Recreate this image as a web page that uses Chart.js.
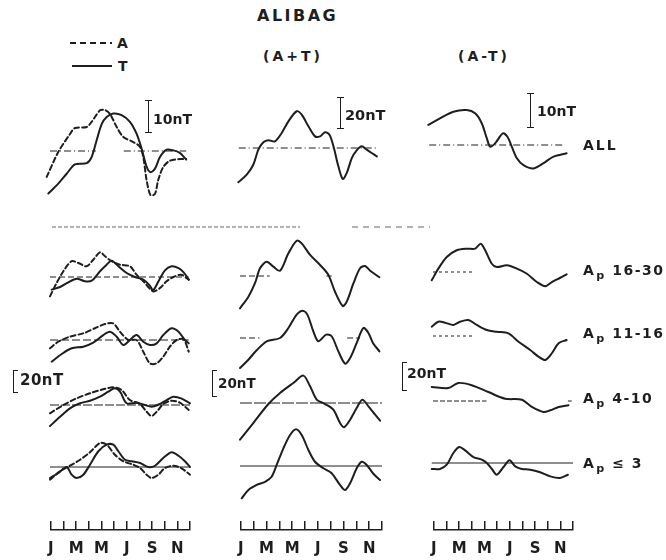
<!DOCTYPE html>
<html>
<head>
<meta charset="utf-8">
<script src="https://cdn.jsdelivr.net/npm/chart.js@4.4.1/dist/chart.umd.min.js"></script>
<style>
  body { margin: 0; background: #fff; }
  #page { position: relative; width: 666px; height: 560px; overflow: hidden; background: #fff;
          font-family: "DejaVu Sans", sans-serif; font-weight: bold; color: #1e1e1e; }
  .t { position: absolute; white-space: nowrap; line-height: 1; }
  .t sub { font-size: 0.8em; vertical-align: -0.35em; margin-left: 1px; }
  .bar { position: absolute; border-left: 1.5px solid #1e1e1e; }
  .bar::before, .bar::after { content: ""; position: absolute; border-top: 1.5px solid #1e1e1e; }
  .bar.i::before, .bar.i::after { left: -4px; width: 7px; }
  .bar.b::before, .bar.b::after { left: -1px; width: 5px; }
  .bar::before { top: 0; }
  .bar::after { bottom: -1px; }
  svg { position: absolute; left: 0; top: 0; }
</style>
</head>
<body>
<div id="page">
  <svg width="666" height="560">
    <line x1="70" y1="43" x2="112" y2="43" stroke="#1e1e1e" stroke-width="2" stroke-dasharray="6,4"/>
    <line x1="72" y1="66" x2="112" y2="66" stroke="#1e1e1e" stroke-width="2"/>
    <line x1="52" y1="227" x2="300" y2="227" stroke="#666" stroke-width="1" stroke-dasharray="4,2"/>
    <line x1="352" y1="227" x2="430" y2="227" stroke="#666" stroke-width="1" stroke-dasharray="6,5"/>
  </svg>
</div>
<script>
  // month ticks under each column
  const MONTH_TICKS = ["J", "F", "M", "A", "M", "J", "J", "A", "S", "O", "N", "D"];

  // curves as [month index, nT] (0 = Jan)
  const ALL_A = [[-0.26,-8.1],[0.65,-0.3],[1.57,5.3],[1.96,7.2],[2.88,7.5],[3.27,9.1],[3.93,12.7],[4.32,12.8],[4.71,11.6],[5.24,7.5],[5.76,4.4],[6.54,2.8],[7.07,1.3],[7.33,-1.9],[7.59,-9.1],[7.9,-13.8],[8.25,-13.4],[8.5,-9.1],[8.9,-5.0],[9.4,-3.1],[10.2,-2.5],[10.7,-2.5]];
  const ALL_T = [[-0.13,-13.3],[0.65,-10.2],[1.31,-7.1],[1.96,-4.2],[2.88,-3.8],[3.27,-1.9],[3.66,3.3],[4.06,8.4],[4.45,10.6],[4.97,11.7],[5.63,11.2],[6.28,9.1],[6.8,5.4],[7.2,0.7],[7.6,-5.0],[7.9,-6.6],[8.25,-5.5],[8.64,-1.9],[9.16,0.4],[9.7,0.2],[10.2,-0.6],[10.7,-2.7]];
  const ALL_SUM = [[-0.13,-22.1],[0.52,-17.2],[1.03,-10.8],[1.42,-1.1],[1.81,3.7],[2.2,5.0],[2.71,4.3],[3.23,9.7],[3.75,17.2],[4.39,23.7],[4.78,21.5],[5.3,14.0],[5.81,7.5],[6.2,7.5],[6.59,10.1],[6.93,8.6],[7.24,1.1],[7.62,-11.8],[7.96,-20.0],[8.27,-16.1],[8.66,-6.5],[9.04,-1.5],[9.43,1.1],[9.82,-1.1],[10.2,-3.2],[10.6,-5.4]];
  const ALL_DIFF = [[-0.37,6.1],[0.55,8.1],[1.6,10.1],[2.65,10.6],[3.31,9.6],[3.83,6.6],[4.23,2.0],[4.49,-0.5],[4.88,0.5],[5.49,3.5],[5.85,2.5],[6.19,-0.5],[6.59,-4.0],[7.11,-6.1],[7.9,-7.1],[8.69,-5.5],[9.47,-3.5],[10.5,-2.5]];

  const AP1630_A = [[0,-16.8],[0.52,-5.2],[1.05,5.0],[1.7,13.7],[2.23,12.2],[2.88,9.3],[3.4,15.0],[3.93,21.5],[4.32,18.0],[4.84,13.7],[5.5,10.7],[6.28,9.3],[6.8,2.0],[7.33,-3.7],[8.1,-12.4],[8.64,-9.6],[9.16,-3.7],[9.7,0],[10.3,2.0],[10.9,-2.3]];
  const AP1630_T = [[0.13,-11.0],[0.79,-8.7],[1.44,-4.6],[2.09,-1.5],[2.75,-3.7],[3.27,-3.2],[3.93,5.0],[4.45,10.7],[4.84,14.2],[5.37,9.3],[6.02,3.5],[6.68,0],[7.33,-2.3],[7.85,-7.6],[8.1,-11.6],[8.59,-2.3],[9.03,5.8],[9.55,9.3],[10.1,7.8],[10.5,4.1],[10.9,-2.3]];
  const AP1630_SUM = [[0,-28.1],[0.65,-18.0],[1.16,-6.3],[1.55,6.7],[2.07,12.4],[2.58,8.1],[3.1,4.6],[3.75,19.7],[4.39,30.7],[4.78,28.4],[5.43,18.3],[6.2,9.6],[6.85,0.9],[7.36,-13.7],[7.96,-26.1],[8.27,-22.3],[8.79,-6.3],[9.3,6.7],[9.69,8.7],[10.08,4.6],[10.8,-1.1]];
  const AP1630_DIFF = [[-0.1,-7.2],[0.42,2.9],[1.08,13.0],[1.86,18.9],[2.65,20.3],[3.31,20.3],[3.75,24.6],[4.1,18.9],[4.62,7.2],[5.01,4.3],[5.8,5.8],[6.59,2.9],[7.38,-1.5],[8.16,-8.7],[8.82,-12.4],[9.34,-8.7],[10.0,-5.0],[10.5,-2.0]];

  const AP1116_A = [[0,-7.2],[0.65,-1.5],[1.57,2.9],[2.62,5.8],[3.53,10.2],[4.32,13.9],[4.97,14.5],[5.5,7.2],[6.15,0],[6.8,0],[7.33,-10.2],[7.85,-20.3],[8.38,-20.3],[8.9,-14.5],[9.42,-5.8],[9.95,0],[10.5,0.6],[10.9,-10.2]];
  const AP1116_T = [[0.13,-18.9],[0.92,-12.2],[1.7,-7.2],[2.62,-5.8],[3.4,-2.3],[4.19,4.3],[4.71,7.2],[5.24,2.9],[5.76,-4.3],[6.28,0],[6.8,4.3],[7.33,-1.5],[7.85,-4.3],[8.38,-2.9],[8.9,4.3],[9.55,10.2],[10.1,7.2],[10.6,0],[10.9,-2.9]];
  const AP1116_SUM = [[0,-26.1],[0.65,-18.9],[1.29,-10.7],[2.07,-2.9],[3.1,0],[3.75,8.7],[4.39,20.3],[4.86,23.7],[5.22,20.3],[5.68,5.8],[6.07,-2.9],[6.67,2.9],[7.1,1.5],[7.62,-11.6],[8.14,-22.3],[8.53,-17.4],[9.04,-4.3],[9.56,8.7],[9.95,4.3],[10.3,-4.3],[10.8,-11.6]];
  const AP1116_DIFF = [[-0.1,8.1],[0.42,12.4],[0.94,11.6],[1.6,9.6],[2.13,12.4],[2.78,13.9],[3.44,9.6],[4.23,5.2],[5.01,3.7],[5.93,2.3],[6.72,-5.0],[7.64,-12.2],[8.29,-18.0],[8.82,-20.9],[9.34,-15.0],[9.87,-6.3],[10.5,-3.5]];

  const AP410_A = [[0,-7.2],[1.05,0],[2.09,5.8],[3.14,10.2],[4.19,13.7],[4.97,15.4],[5.63,13.0],[6.28,4.3],[7.07,0.9],[7.59,-5.8],[7.98,-9.6],[8.51,-4.3],[8.9,0.9],[9.55,3.7],[10.2,2.0],[10.9,-4.3]];
  const AP410_T = [[0,-18.3],[0.79,-10.2],[1.57,-2.9],[2.36,1.5],[3.14,3.7],[3.93,7.2],[4.58,11.6],[5.1,14.5],[5.5,11.6],[6.02,1.5],[6.8,2.0],[7.46,0],[7.98,-1.5],[8.64,0.9],[9.16,4.3],[9.69,7.2],[10.3,5.8],[11,1.5]];
  const AP410_SUM = [[0,-31.9],[1.03,-17.4],[2.2,-0.9],[3.1,8.7],[4.13,17.4],[4.91,23.8],[5.43,14.5],[5.94,3.0],[6.59,-0.9],[7.23,-5.8],[7.75,-17.4],[8.06,-21.1],[8.53,-14.5],[9.04,-4.3],[9.48,2.9],[9.95,-2.9],[10.47,-10.2],[10.85,-15.4]];
  const AP410_DIFF = [[-0.1,12.2],[1.2,11.3],[2.0,15.7],[3.04,13.7],[4.35,7.8],[5.67,2.0],[6.98,1.1],[7.77,-5.2],[8.68,-9.6],[9.21,-8.1],[9.87,-5.2],[10.65,-3.7]];

  const AP3_A = [[0,-11.0],[0.79,-3.7],[1.57,1.1],[2.36,6.3],[3.14,12.8],[3.93,20.9],[4.45,19.4],[5.1,10.7],[5.76,5.0],[6.54,2.0],[7.07,-0.9],[7.59,-6.7],[7.98,-9.6],[8.51,-6.7],[9.03,-0.9],[9.69,1.1],[10.3,-0.9],[11,-6.7]];
  const AP3_T = [[0,-9.6],[0.65,-5.2],[1.31,0],[1.7,-6.7],[2.09,-9.6],[2.62,-6.7],[3.14,2.0],[3.8,13.7],[4.45,19.4],[4.97,19.4],[5.37,13.7],[5.89,6.3],[6.41,5.0],[7.07,3.5],[7.72,0],[8.25,1.1],[8.9,7.8],[9.55,12.8],[10.1,9.8],[10.6,5.0],[11,0]];
  const AP3_SUM = [[0.13,-28.1],[0.65,-20.9],[1.29,-16.5],[1.94,-13.7],[2.45,-9.3],[2.84,0.9],[3.36,15.4],[3.88,27.0],[4.34,31.9],[4.78,27.0],[5.3,13.9],[5.81,3.7],[6.46,-2.0],[7.1,-6.3],[7.75,-16.5],[8.14,-20.9],[8.53,-15.0],[9.04,-2.0],[9.43,3.7],[9.82,0.9],[10.3,-6.3],[10.85,-12.2]];
  const AP3_DIFF = [[-0.1,-5.2],[0.55,-5.2],[1.08,-1.5],[1.6,8.7],[2.07,13.9],[2.52,11.0],[3.18,5.2],[3.83,2.9],[4.23,0],[4.62,-5.2],[5.01,-10.2],[5.54,-3.5],[6.01,2.3],[6.46,-2.9],[6.98,-5.2],[7.64,-5.8],[8.42,-8.1],[9.21,-11.6],[9.97,-13.0],[10.6,-10.2]];

  // layout of the panels on the page
  const COL_LEFT = [50, 240, 433];
  const COL_WIDTH = [140, 142, 140];
  const ROW_BASE = [[151, 148, 145], [277, 276, 272], [340, 338, 336], [405, 403, 401], [467, 466, 463]];
  const ROW_SCALE = [[3.2, 1.55, 3.3], [1.15, 1.15, 1.15], [1.15, 1.15, 1.15], [1.15, 1.15, 1.15], [1.15, 1.15, 1.15]]; // px per nT
  const DASH_DOT = [7, 3, 1, 3];
  const DASHED = [6, 3];

  const PANELS = [
    { row: 0, col: 0, series: [ALL_A, ALL_T], base: [[0, 3.6], [5.8, 10.7]], dash: DASH_DOT },
    { row: 0, col: 1, series: [ALL_SUM], base: [[-0.1, 10.6]], dash: DASH_DOT },
    { row: 0, col: 2, series: [ALL_DIFF], base: [[-0.3, 10.3]], dash: DASH_DOT },
    { row: 1, col: 0, series: [AP1630_A, AP1630_T], base: [[0, 10.9]], dash: DASHED },
    { row: 1, col: 1, series: [AP1630_SUM], base: [[0, 2.3], [6.7, 7.1]], dash: DASHED },
    { row: 1, col: 2, series: [AP1630_DIFF], base: [[0, 3.3]], dash: [3, 3] },
    { row: 2, col: 0, series: [AP1116_A, AP1116_T], base: [[0, 10.9]], dash: [8, 3] },
    { row: 2, col: 1, series: [AP1116_SUM], base: [[0, 1.5], [8.3, 9.3]], dash: DASHED },
    { row: 2, col: 2, series: [AP1116_DIFF], base: [[0, 3.1]], dash: [3, 3] },
    { row: 3, col: 0, series: [AP410_A, AP410_T], base: [[0, 11]], dash: [9, 2] },
    { row: 3, col: 1, series: [AP410_SUM], base: [[0, 11]], dash: [12, 2] },
    { row: 3, col: 2, series: [AP410_DIFF], base: [[0, 4.2], [10.6, 10.9]], dash: [5, 2] },
    { row: 4, col: 0, series: [AP3_A, AP3_T], base: [[0, 11]], dash: [] },
    { row: 4, col: 1, series: [AP3_SUM], base: [[0, 11]], dash: [] },
    { row: 4, col: 2, series: [AP3_DIFF], base: [[-0.1, 11]], dash: [] }
  ];

  const INK = "#1e1e1e";
  const FONT = "DejaVu Sans";
  const PAD = 12;
  const AXIS_Y = 530;
  const TICK_LEN = 9;
  const LABEL_BAND = 30;
  const page = document.getElementById("page");

  function place(x, y, w, h) {
    const c = document.createElement("canvas");
    c.width = w;
    c.height = h;
    c.style.cssText = `position:absolute;left:${x}px;top:${y}px;width:${w}px;height:${h}px`;
    page.appendChild(c);
    return c;
  }

  function lineSet(points, dashed) {
    return {
      data: points.map(([x, y]) => ({ x, y })),
      borderColor: INK, borderWidth: 2, borderDash: dashed ? [5, 3] : [],
      borderCapStyle: "round", borderJoinStyle: "round",
      tension: 0.3, pointRadius: 0, clip: false, fill: false
    };
  }

  function baseSet(range, dash) {
    return {
      data: [{ x: range[0], y: 0 }, { x: range[1], y: 0 }],
      borderColor: INK, borderWidth: 1, borderDash: dash, pointRadius: 0, clip: false, fill: false
    };
  }

  function drawPanel(p) {
    const H = 120;
    const scale = ROW_SCALE[p.row][p.col];
    const half = H / 2 / scale;
    const canvas = place(COL_LEFT[p.col] - PAD, ROW_BASE[p.row][p.col] - H / 2, COL_WIDTH[p.col] + 2 * PAD, H);
    const datasets = p.base.map(r => baseSet(r, p.dash))
      .concat(p.series.map((s, i) => lineSet(s, p.col === 0 && i === 0)));
    new Chart(canvas, {
      type: "line",
      data: { datasets },
      options: {
        responsive: false, animation: false, events: [],
        layout: { padding: { left: PAD, right: PAD, top: 0, bottom: 0 } },
        plugins: { legend: { display: false }, tooltip: { enabled: false } },
        scales: {
          x: { type: "linear", display: false, min: 0, max: 11 },
          y: { display: false, min: -half, max: half }
        }
      }
    });
  }

  function drawMonthAxis(col) {
    // plot area = tick comb height, axis band below holds the letters
    const canvas = place(COL_LEFT[col] - PAD, AXIS_Y - TICK_LEN, COL_WIDTH[col] + 2 * PAD, TICK_LEN + LABEL_BAND);
    new Chart(canvas, {
      type: "line",
      data: { datasets: [] },
      options: {
        responsive: false, animation: false, events: [],
        layout: { padding: { left: PAD, right: PAD, top: 0, bottom: 0 } },
        plugins: { legend: { display: false }, tooltip: { enabled: false } },
        scales: {
          x: {
            type: "linear", min: 0, max: 11,
            afterFit: scale => { scale.height = LABEL_BAND; },
            grid: { color: INK, lineWidth: 1.5, drawTicks: false },
            border: { color: INK, width: 1.5 },
            ticks: {
              stepSize: 1, autoSkip: false, maxRotation: 0, padding: 10, color: INK,
              font: { family: FONT, weight: "bold", size: 15 },
              callback: v => (Number.isInteger(v) && v % 2 === 0 ? MONTH_TICKS[v] : "")
            }
          },
          y: { display: false, min: 0, max: 1 }
        }
      }
    });
  }

  function text(str, x, cy, size, spacing) {
    const d = document.createElement("div");
    d.className = "t";
    d.innerHTML = str;
    d.style.left = x + "px";
    d.style.top = (cy - size / 2) + "px";
    d.style.fontSize = size + "px";
    if (spacing) d.style.letterSpacing = spacing + "px";
    page.appendChild(d);
  }

  function bar(x, y1, y2, kind) {
    const d = document.createElement("div");
    d.className = "bar " + kind;
    d.style.left = x + "px";
    d.style.top = y1 + "px";
    d.style.height = (y2 - y1) + "px";
    page.appendChild(d);
  }

  PANELS.forEach(drawPanel);
  [0, 1, 2].forEach(drawMonthAxis);

  text("ALIBAG", 257, 16, 16, 2.5);
  text("(A+T)", 263, 56, 14, 3);
  text("(A-T)", 458, 56, 14, 3);
  text("A", 117, 43, 14);
  text("T", 118, 66, 14);

  bar(148, 100, 132, "i");
  text("10nT", 153, 119, 14);
  bar(340, 97, 128, "i");
  text("20nT", 345, 115, 14.5);
  bar(530, 93, 127, "i");
  text("10nT", 537, 111, 14);

  bar(13, 370, 392, "b");
  text("20nT", 20, 380, 15, 0.5);
  bar(212, 370, 396, "b");
  text("20nT", 218, 384, 13.5);
  bar(402, 362, 390, "b");
  text("20nT", 407, 373, 14);

  text("ALL", 583, 145, 14, 2);
  text("A<sub>p</sub> 16-30", 583, 270, 14, 1.5);
  text("A<sub>p</sub> 11-16", 583, 333, 14, 1.5);
  text("A<sub>p</sub> 4-10", 583, 398, 14, 1.5);
  text("A<sub>p</sub> \u2264 3", 583, 463, 14, 1.5);
</script>
</body>
</html>
